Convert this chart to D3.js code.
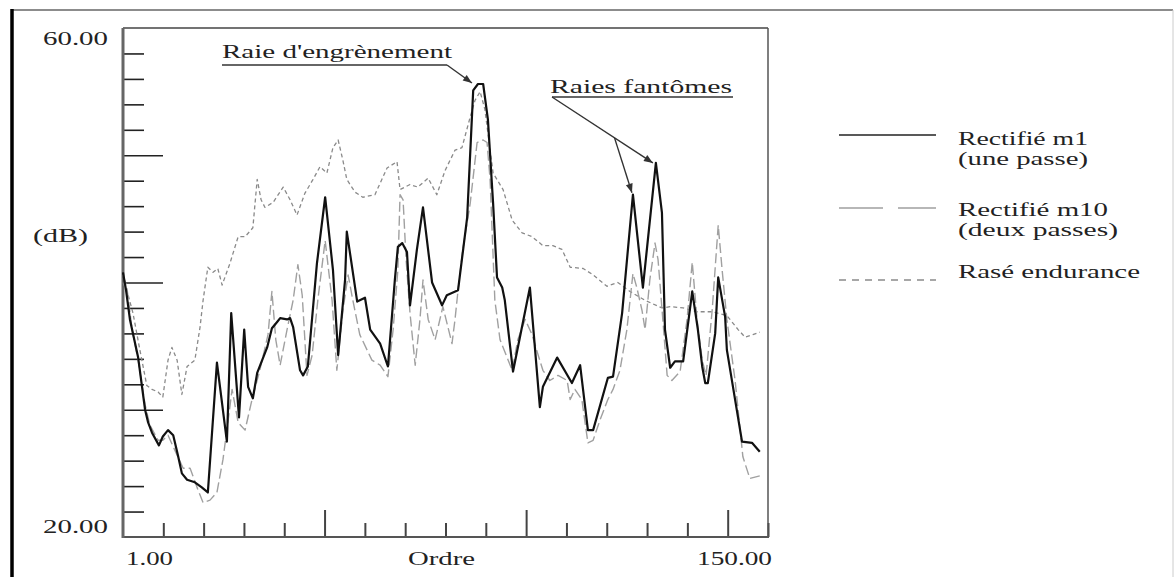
<!DOCTYPE html>
<html>
<head>
<meta charset="utf-8">
<script src="https://cdn.jsdelivr.net/npm/d3@7"></script>
<style>
  html, body { margin: 0; padding: 0; background: #fff; }
  svg { display: block; }
  text { font-family: "Liberation Serif", "Times New Roman", serif; fill: #222; }
</style>
</head>
<body>
<svg id="chart" width="1175" height="577"></svg>
<script>
// Spectre en ordres : niveau (dB) en fonction de l'ordre
const m1Order = [1.0,1.7,2.6,4.5,6.1,6.8,7.7,9.3,10.2,11.4,12.6,13.7,14.6,15.8,17.6,19.2,20.6,22.7,25.0,26.0,27.8,29.0,29.9,31.0,32.0,34.3,35.4,36.6,37.3,38.9,39.6,40.3,41.9,42.6,43.7,45.8,47.7,49.5,50.7,52.3,52.7,55.1,56.9,58.1,60.4,62.2,63.8,64.5,65.5,66.6,67.3,68.9,70.3,72.4,74.2,74.7,75.8,78.4,80.5,81.9,83.0,84.2,85.3,86.5,87.4,88.6,89.2,91.1,95.0,97.3,98.0,101.3,104.7,106.6,108.4,109.6,113.0,114.2,116.3,118.8,121.1,124.1,125.5,126.2,127.4,128.5,130.4,132.5,133.8,134.8,135.5,136.1,137.8,138.5,140.1,140.5,144.0,146.3,148.1];
const m1Db = [40.8,39.4,37.1,34.1,30.0,29.0,28.2,27.2,27.9,28.4,28.0,26.4,25.0,24.5,24.3,23.9,23.5,33.7,27.5,37.6,29.4,36.3,31.8,30.9,32.9,34.9,36.4,36.9,37.2,37.1,37.2,36.5,33.1,32.7,33.4,41.5,46.7,41.0,34.3,40.2,44.0,38.5,38.8,36.3,35.2,33.4,40.2,42.8,43.1,42.4,38.2,42.6,45.9,40.0,38.6,38.2,39.0,39.4,45.1,55.1,55.6,55.6,52.8,46.2,40.4,39.6,38.6,33.0,39.6,30.2,31.8,34.1,32.1,33.5,28.4,28.4,32.5,32.6,37.6,46.9,39.6,49.4,45.5,36.3,33.3,33.8,33.8,39.3,36.3,33.4,32.1,32.1,36.0,40.4,37.3,34.7,27.5,27.4,26.7];

const m10Order = [1.0,1.9,3.1,4.5,6.1,7.2,9.1,10.2,11.4,13.0,14.9,16.5,18.1,19.5,21.1,22.7,24.1,25.3,26.2,27.6,29.2,30.8,32.6,34.5,35.4,36.3,37.3,38.9,40.3,41.4,42.4,43.5,44.7,46.0,47.7,49.3,50.4,51.8,53.0,54.1,55.7,58.5,60.4,62.2,63.4,64.5,65.0,65.7,66.4,67.3,68.5,69.6,70.3,71.5,73.1,74.9,77.0,77.7,78.4,79.5,81.2,82.8,84.2,85.1,85.8,86.9,88.1,89.5,90.9,92.2,93.9,95.5,96.9,98.0,99.6,101.5,103.6,104.3,105.4,107.0,108.4,109.6,111.2,113.0,114.2,115.8,117.4,118.8,119.7,120.9,121.6,122.7,123.9,124.6,125.7,126.7,127.8,129.7,131.3,132.5,133.6,134.8,135.7,137.1,138.5,139.4,140.5,142.4,144.2,145.8,148.1];
const m10Db = [40.6,39.6,36.3,33.9,30.4,28.8,27.6,27.6,28.0,26.8,25.4,25.4,23.9,22.7,22.9,23.5,26.1,29.2,31.6,29.0,28.4,30.8,33.1,35.9,39.3,35.5,33.5,36.3,38.6,41.4,39.0,32.7,34.3,38.6,43.3,38.6,33.1,37.8,40.6,38.6,35.9,33.9,33.5,32.6,36.3,41.0,46.9,46.5,41.8,37.6,33.5,37.1,40.2,37.1,35.5,38.1,35.2,37.1,39.4,42.6,46.2,51.0,51.2,51.0,48.1,38.6,35.5,34.3,33.1,35.5,37.1,35.9,34.3,33.1,32.3,32.7,32.3,30.8,31.6,30.8,27.4,27.6,29.2,30.8,31.6,33.1,36.3,40.7,39.6,37.8,36.3,40.2,43.1,41.8,37.1,32.7,32.3,33.0,37.1,41.6,37.1,33.9,32.7,37.8,44.5,41.0,37.1,32.3,26.3,24.6,24.8];

const raseOrder = [1.0,2.2,3.3,4.9,6.5,7.7,9.1,10.2,11.4,12.3,13.5,14.6,15.8,17.6,18.8,19.5,20.6,21.8,22.9,23.9,25.7,27.6,29.2,31.0,32.0,32.9,33.8,35.7,38.0,39.6,41.2,43.0,44.9,46.5,48.1,49.5,50.7,51.8,52.7,54.6,56.4,59.2,62.0,64.3,65.0,67.3,69.1,71.5,73.5,75.4,77.7,79.3,81.2,82.3,83.5,84.6,85.8,86.5,88.8,90.9,93.2,95.5,98.0,100.3,102.4,104.3,107.3,109.6,112.8,115.3,118.1,121.6,125.5,127.4,130.4,133.6,137.1,140.5,143.1,144.7,146.5,148.1];
const raseDb = [40.0,39.0,37.6,34.7,31.9,31.6,31.4,31.0,33.9,34.9,33.9,31.2,33.4,33.9,36.5,38.6,41.2,40.8,41.1,39.8,41.5,43.6,43.6,44.3,48.1,46.5,45.9,46.3,47.5,46.5,45.3,47.0,48.1,49.1,48.6,50.6,51.2,49.6,48.1,47.1,46.7,46.9,49.0,49.5,47.3,47.7,47.5,48.2,46.9,48.8,50.4,50.6,53.0,54.3,55.0,53.6,50.4,48.6,47.3,44.9,43.9,43.6,42.9,42.9,42.6,41.2,41.1,40.6,39.7,40.0,39.3,38.6,38.0,38.1,38.0,37.7,37.7,37.4,36.3,35.7,35.9,36.1];

const seriesNames = ["Rectifié m1", "Rectifié m10", "Rasé endurance"];
const seriesNotes = ["(une passe)", "(deux passes)", ""];
const yRange = [20, 60];
const xRange = [1, 150];
const yEndLabels = ["20.00", "60.00"];
const xEndLabels = ["1.00", "150.00"];
const xTitle = "Ordre";
const yTitle = "(dB)";
const meshLabel = "Raie d'engrènement";
const ghostLabel = "Raies fantômes";
const meshPeak = [83.0, 55.6];
const ghostPeaks = [[118.8, 46.9], [124.1, 49.4]];

const svg = d3.select("#chart");
const pLeft = 123, pRight = 768, pTop = 28, pBottom = 537;

const x = d3.scaleLinear().domain(xRange).range([pLeft, pRight]);
const y = d3.scaleLinear().domain(yRange).range([pBottom, pTop]);

// page frame
svg.append("line").attr("x1", 12).attr("x2", 1173).attr("y1", 10).attr("y2", 10)
  .attr("stroke", "#666").attr("stroke-width", 1.5);
svg.append("line").attr("x1", 12).attr("x2", 12).attr("y1", 9).attr("y2", 577)
  .attr("stroke", "#000").attr("stroke-width", 3.5);
svg.append("line").attr("x1", 1173).attr("x2", 1173).attr("y1", 10).attr("y2", 577)
  .attr("stroke", "#ccc").attr("stroke-width", 1);

// text helper: serif text stretched to a given width
function label(str, xPos, yPos, size, width, anchor) {
  const t = svg.append("text").attr("x", xPos).attr("y", yPos)
    .attr("font-size", size).text(str);
  if (anchor) t.attr("text-anchor", anchor);
  if (width) t.attr("textLength", width).attr("lengthAdjust", "spacingAndGlyphs");
  return t;
}

// y ticks (every 2 dB, longer every 10 dB)
const yTicks = d3.range(yRange[0] + 2, yRange[1], 2);
const yAxis = svg.append("g").attr("transform", `translate(${pLeft},0)`)
  .call(d3.axisRight(y).tickValues(yTicks).tickSize(21).tickFormat(""));
yAxis.select(".domain").remove();
yAxis.selectAll(".tick line")
  .attr("x2", d => d % 10 === 0 ? 40 : 21)
  .attr("stroke", "#222").attr("stroke-width", 1.6);

// x ticks (16 divisions, longer every 5)
const xDiv = 16;
const xTicks = d3.range(1, xDiv + 1).map(i => xRange[0] + i * (xRange[1] - xRange[0]) / xDiv);
const xAxis = svg.append("g").attr("transform", `translate(0,${pBottom})`)
  .call(d3.axisTop(x).tickValues(xTicks).tickSize(14).tickFormat(""));
xAxis.select(".domain").remove();
xAxis.selectAll(".tick line")
  .attr("y2", (d, i) => (i + 1) % 5 === 0 ? -27 : -14)
  .attr("stroke", "#444").attr("stroke-width", 2);

// plot box
svg.append("line").attr("x1", pLeft).attr("x2", pRight).attr("y1", pTop).attr("y2", pTop)
  .attr("stroke", "#444").attr("stroke-width", 1.5);
svg.append("line").attr("x1", pRight).attr("x2", pRight).attr("y1", pTop).attr("y2", pBottom)
  .attr("stroke", "#555").attr("stroke-width", 1.5);
svg.append("line").attr("x1", pLeft).attr("x2", pRight + 1).attr("y1", pBottom).attr("y2", pBottom)
  .attr("stroke", "#555").attr("stroke-width", 2);
svg.append("line").attr("x1", pLeft).attr("x2", pLeft).attr("y1", pTop).attr("y2", pBottom + 1)
  .attr("stroke", "#666").attr("stroke-width", 3);

// axis labels
label(yEndLabels[1], 43, 45, 18, 65);
label(yEndLabels[0], 43, 533, 18, 65);
label(yTitle, 33, 242, 18, 55);
label(xEndLabels[0], 126, 565, 18, 47);
label(xTitle, 408, 565, 18, 67);
label(xEndLabels[1], 697, 565, 18, 75);

// curves
const line = d3.line().x(d => x(d[0])).y(d => y(d[1]));
const styles = [
  { stroke: "#111", width: 2.2, dash: null, legendDash: null },
  { stroke: "#a0a0a0", width: 1.4, dash: "10,4", legendDash: "44,15" },
  { stroke: "#8a8a8a", width: 1.3, dash: "4,3", legendDash: "7,6" }
];
const series = [
  d3.zip(raseOrder, raseDb),
  d3.zip(m10Order, m10Db),
  d3.zip(m1Order, m1Db)
];
const drawOrder = [2, 1, 0];
series.forEach((pts, k) => {
  const s = styles[drawOrder[k]];
  svg.append("path").datum(pts).attr("d", line)
    .attr("fill", "none").attr("stroke", s.stroke).attr("stroke-width", s.width)
    .attr("stroke-linejoin", "round")
    .attr("stroke-dasharray", s.dash);
});

// annotations
function arrow(x1, y1, x2, y2) {
  svg.append("line").attr("x1", x1).attr("y1", y1).attr("x2", x2).attr("y2", y2)
    .attr("stroke", "#333").attr("stroke-width", 1.4);
  const a = Math.atan2(y2 - y1, x2 - x1), L = 9, w = 3.5;
  const bx = x2 - L * Math.cos(a), by = y2 - L * Math.sin(a);
  const px = -Math.sin(a) * w, py = Math.cos(a) * w;
  svg.append("path")
    .attr("d", `M${x2},${y2}L${bx + px},${by + py}L${bx - px},${by - py}Z`)
    .attr("fill", "#333");
}

label(meshLabel, 222, 58, 19, 230);
svg.append("line").attr("x1", 222).attr("x2", 447).attr("y1", 65).attr("y2", 65)
  .attr("stroke", "#333").attr("stroke-width", 1.4);
arrow(447, 65, x(meshPeak[0]) - 6, y(meshPeak[1]) - 1);

label(ghostLabel, 550, 93, 19, 182);
svg.append("line").attr("x1", 552).attr("x2", 733).attr("y1", 97).attr("y2", 97)
  .attr("stroke", "#333").attr("stroke-width", 1.4);
const g2 = [x(ghostPeaks[1][0]) - 3, y(ghostPeaks[1][1])];
arrow(552, 97, g2[0], g2[1]);
const tBranch = 0.62;
arrow(552 + (g2[0] - 552) * tBranch, 97 + (g2[1] - 97) * tBranch,
      x(ghostPeaks[0][0]) - 1, y(ghostPeaks[0][1]) - 2);

// legend
const legendY = [135, 208, 280];
const legendText = [[145, 165], [216, 236], [278]];
const legendWidths = [[130, 130], [150, 160], [182]];
styles.forEach((s, i) => {
  svg.append("line").attr("x1", 839).attr("x2", 936)
    .attr("y1", legendY[i]).attr("y2", legendY[i])
    .attr("stroke", i === 0 ? "#222" : s.stroke).attr("stroke-width", i === 0 ? 1.6 : 1.3)
    .attr("stroke-dasharray", s.legendDash);
  label(seriesNames[i], 958, legendText[i][0], 18, legendWidths[i][0]);
  if (seriesNotes[i]) label(seriesNotes[i], 958, legendText[i][1], 18, legendWidths[i][1]);
});
</script>
</body>
</html>
